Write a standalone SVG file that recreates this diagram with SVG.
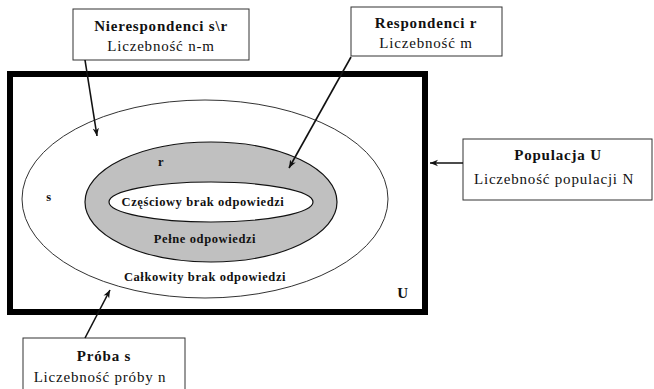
<svg xmlns="http://www.w3.org/2000/svg" width="654" height="389" viewBox="0 0 654 389">
<defs>
<style>
.box{fill:#fff;stroke:#333;stroke-width:1}
.t{font-family:"Liberation Serif","Times New Roman","DejaVu Serif",serif;fill:#111;text-anchor:middle}
.b{font-weight:bold;font-size:15px;letter-spacing:0.8px}
.r{font-size:15px;letter-spacing:0.8px}
.in{font-weight:bold;font-size:12.5px;letter-spacing:0.6px}
.con{stroke:#111;stroke-width:1.6;fill:none;marker-end:url(#ah)}
</style>
<marker id="ah" viewBox="0 0 10 10" refX="10" refY="5" markerWidth="8" markerHeight="8" markerUnits="userSpaceOnUse" orient="auto">
<path d="M0,1 L10,5 L0,9 L3,5 Z" fill="#111"/>
</marker>
</defs>
<rect width="654" height="389" fill="#fff"/>
<g id="population">
<rect x="10" y="74" width="415" height="238" fill="#fff" stroke="#000" stroke-width="6"/>
<text class="t in" x="403" y="298" style="font-size:15px">U</text>
</g>
<g id="sample">
<ellipse cx="205" cy="199" rx="183" ry="99" fill="#fff" stroke="#333" stroke-width="1"/>
<text class="t in" x="49" y="201">s</text>
<text class="t in" x="205" y="281">Całkowity brak odpowiedzi</text>
</g>
<g id="respondents">
<ellipse cx="211" cy="202" rx="126" ry="60" fill="#c0c0c0" stroke="#111" stroke-width="1.2"/>
<text class="t in" x="161" y="166">r</text>
<text class="t in" x="205" y="243">Pełne odpowiedzi</text>
</g>
<g id="partial">
<ellipse cx="211" cy="202" rx="102" ry="20" fill="#fff" stroke="#111" stroke-width="1.2"/>
<text class="t in" x="203" y="206">Częściowy brak odpowiedzi</text>
</g>
<g id="box-nierespondenci">
<rect class="box" x="73" y="9" width="176" height="51"/>
<text class="t b" x="161" y="31">Nierespondenci  s\r</text>
<text class="t r" x="161" y="51">Liczebność n-m</text>
</g>
<g id="box-respondenci">
<rect class="box" x="351" y="7" width="151" height="49"/>
<text class="t b" x="426" y="28">Respondenci r</text>
<text class="t r" x="426" y="48">Liczebność m</text>
</g>
<g id="box-populacja">
<rect class="box" x="463" y="139" width="189" height="61"/>
<text class="t b" x="558" y="160">Populacja U</text>
<text class="t r" x="554" y="184">Liczebność populacji N</text>
</g>
<g id="box-proba">
<rect class="box" x="23" y="338" width="162" height="60"/>
<text class="t b" x="104" y="361">Próba s</text>
<text class="t r" x="100" y="382">Liczebność próby n</text>
</g>
<g id="connectors">
<line class="con" x1="85" y1="60" x2="97" y2="136"/>
<line class="con" x1="351" y1="57" x2="289" y2="168"/>
<line class="con" x1="463" y1="163" x2="430" y2="163"/>
<line class="con" x1="85" y1="338" x2="110" y2="290"/>
</g>
</svg>
